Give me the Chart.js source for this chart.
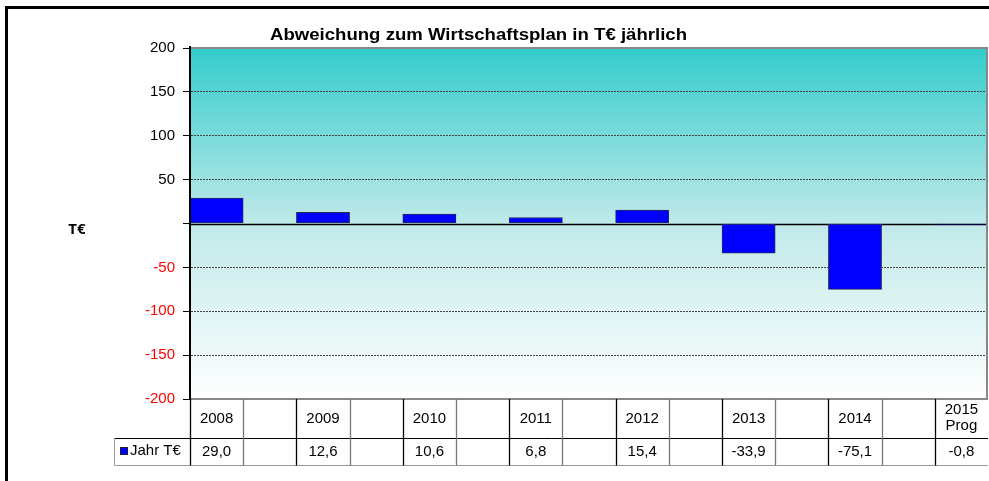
<!DOCTYPE html>
<html>
<head>
<meta charset="utf-8">
<script src="https://cdn.jsdelivr.net/npm/chart.js@4.4.0/dist/chart.umd.min.js"></script>
<style>
html, body { margin: 0; padding: 0; background: #fff; }
#wrap { width: 989px; height: 481px; position: relative; }
</style>
</head>
<body>
<div id="wrap"><canvas id="devChart" width="989" height="481"></canvas></div>
<script>
// categories (every second column is an empty spacer, like in the excel sheet)
const labels = ['2008', '', '2009', '', '2010', '', '2011', '', '2012', '', '2013', '', '2014', '', ['2015', 'Prog']];
// deviation in T€
const values = [29.0, null, 12.6, null, 10.6, null, 6.8, null, 15.4, null, -33.9, null, -75.1, null, -0.8];
const yTicks = [200, 150, 100, 50, 0, -50, -100, -150, -200];
const seriesName = 'Jahr T€';
const chartTitle = 'Abweichung zum Wirtschaftsplan in T€ jährlich';
const axisTitle = 'T€';

const fontMain = '"Liberation Sans", Arial, sans-serif';

function fmt(v) {
  if (v === null) return '';
  return v.toFixed(1).replace('.', ',');
}

// white page, frame and gradient behind the plot
const backgroundPlugin = {
  id: 'backgroundPlugin',
  beforeDraw(chart) {
    const ctx = chart.ctx;
    const a = chart.chartArea;
    ctx.save();
    ctx.fillStyle = '#fff';
    ctx.fillRect(0, 0, chart.width, chart.height);
    // outer frame (runs off the picture on the right and bottom)
    ctx.strokeStyle = '#000';
    ctx.lineWidth = 3;
    ctx.strokeRect(6.5, 7.5, chart.width + 20, chart.height + 20);
    // gradient
    const g = ctx.createLinearGradient(0, a.top, 0, a.bottom);
    g.addColorStop(0, 'rgb(52,204,204)');
    g.addColorStop(0.5, 'rgb(192,233,233)');
    g.addColorStop(1, 'rgb(255,255,255)');
    ctx.fillStyle = g;
    ctx.fillRect(a.left, a.top, a.right - a.left, a.bottom - a.top);
    ctx.restore();
  },
  beforeDatasetsDraw(chart) {
    // zero line
    const ctx = chart.ctx;
    const a = chart.chartArea;
    const y0 = Math.round(chart.scales.y.getPixelForValue(0)) + 0.5;
    ctx.save();
    ctx.strokeStyle = '#000';
    ctx.lineWidth = 1.5;
    ctx.beginPath();
    ctx.moveTo(a.left, y0);
    ctx.lineTo(a.right, y0);
    ctx.stroke();
    ctx.restore();
  }
};

// title, axis title, plot border and data table
const tablePlugin = {
  id: 'tablePlugin',
  afterDraw(chart) {
    const ctx = chart.ctx;
    const a = chart.chartArea;
    const x = chart.scales.x;
    const colW = (x.right - x.left) / labels.length;
    ctx.save();

    // plot border
    ctx.strokeStyle = '#888';
    ctx.lineWidth = 2;
    ctx.beginPath();
    ctx.moveTo(a.left, a.top);
    ctx.lineTo(a.right - 1, a.top);
    ctx.lineTo(a.right - 1, a.bottom);
    ctx.lineTo(a.left, a.bottom);
    ctx.stroke();
    ctx.strokeStyle = '#000';
    ctx.beginPath();
    ctx.moveTo(a.left, a.top - 2);
    ctx.lineTo(a.left, a.bottom);
    ctx.stroke();

    // title (the excel picture is stretched a bit wider)
    ctx.fillStyle = '#000';
    ctx.font = 'bold 16px ' + fontMain;
    ctx.textAlign = 'center';
    ctx.textBaseline = 'alphabetic';
    const tw = ctx.measureText(chartTitle).width;
    ctx.save();
    ctx.translate(478.5, 40);
    ctx.scale(417 / tw, 1);
    ctx.fillText(chartTitle, 0, 0);
    ctx.restore();

    // axis title
    ctx.font = 'bold 15px "Open Sans", sans-serif';
    ctx.fillText(axisTitle, 77, 234);

    // table
    const top = a.bottom;
    const mid = 438.5;
    const bot = 465.5;
    const legLeft = 114.5;

    ctx.lineWidth = 1;
    ctx.strokeStyle = '#000';
    ctx.beginPath();
    ctx.moveTo(legLeft, mid);
    ctx.lineTo(a.right, mid);
    ctx.stroke();
    ctx.strokeStyle = '#999';
    ctx.beginPath();
    ctx.moveTo(legLeft, bot);
    ctx.lineTo(a.right, bot);
    ctx.moveTo(legLeft, mid);
    ctx.lineTo(legLeft, bot);
    ctx.stroke();

    for (let i = 0; i < labels.length; i++) {
      const lx = Math.round(x.left + i * colW) + 0.5;
      ctx.strokeStyle = i % 2 === 0 ? '#000' : '#777';
      ctx.lineWidth = 1.3;
      ctx.beginPath();
      ctx.moveTo(lx, top);
      ctx.lineTo(lx, bot);
      ctx.stroke();
    }

    ctx.fillStyle = '#000';
    ctx.font = '15px ' + fontMain;
    ctx.textAlign = 'center';
    ctx.textBaseline = 'middle';
    labels.forEach((lab, i) => {
      const cx = x.getPixelForValue(i);
      if (Array.isArray(lab)) {
        ctx.fillText(lab[0], cx, 410);
        ctx.fillText(lab[1], cx, 426);
      } else if (lab) {
        ctx.fillText(lab, cx, 419);
      }
      ctx.fillText(fmt(values[i]), cx, 452);
    });

    // legend key
    ctx.fillStyle = '#0000FF';
    ctx.fillRect(120, 447, 8, 8);
    ctx.strokeStyle = '#222';
    ctx.lineWidth = 1;
    ctx.strokeRect(120.5, 447.5, 7, 7);
    ctx.fillStyle = '#000';
    ctx.textAlign = 'left';
    ctx.fillText(seriesName, 130, 451);

    ctx.restore();
  }
};

const ctx = document.getElementById('devChart').getContext('2d');
const devChart = new Chart(ctx, {
  type: 'bar',
  data: {
    labels: labels,
    datasets: [{
      label: seriesName,
      data: values,
      backgroundColor: '#0000FF',
      borderColor: '#2a2a55',
      borderWidth: 1,
      borderSkipped: false,
      barPercentage: 1.0,
      categoryPercentage: 1.0
    }]
  },
  plugins: [backgroundPlugin, tablePlugin],
  options: {
    responsive: false,
    animation: false,
    devicePixelRatio: 1,
    events: [],
    layout: {
      padding: { left: 0, top: 48, right: 1, bottom: 82 }
    },
    plugins: {
      legend: { display: false },
      title: { display: false },
      tooltip: { enabled: false }
    },
    scales: {
      x: {
        display: false,
        offset: true
      },
      y: {
        min: -200,
        max: 200,
        afterFit: (scale) => { scale.width = 190; },
        afterBuildTicks: (scale) => { scale.ticks = yTicks.map(v => ({ value: v })); },
        border: { display: true, color: '#000', width: 2, dash: [2, 1] },
        grid: {
          color: (c) => (c.tick && (c.tick.value === 0 || Math.abs(c.tick.value) === 200)) ? 'rgba(0,0,0,0)' : '#444',
          lineWidth: 1,
          tickLength: 7,
          tickColor: '#000',
          tickBorderDash: [],
          drawTicks: true
        },
        ticks: {
          padding: 8,
          font: { family: fontMain, size: 15 },
          color: (c) => c.tick.value < 0 ? '#FF0000' : '#000',
          callback: (v) => v === 0 ? '' : v
        }
      }
    }
  }
});
</script>
</body>
</html>
